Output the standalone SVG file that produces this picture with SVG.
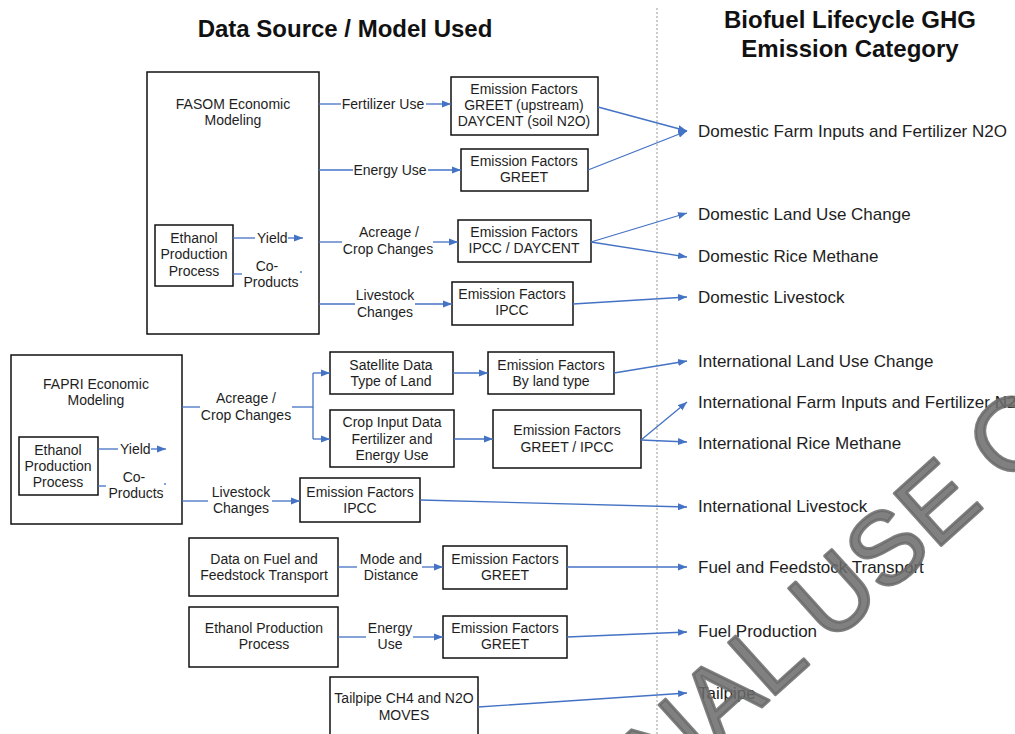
<svg xmlns="http://www.w3.org/2000/svg" width="1015" height="734" viewBox="0 0 1015 734">
<style>
text{font-family:"Liberation Sans",Arial,sans-serif;fill:#1e1e1e}
.b{font-size:14px;text-anchor:middle}
.l{font-size:14px}
.r{font-size:17px}
.t{font-size:24px;font-weight:bold;text-anchor:middle;fill:#111}
.box{fill:#fff;stroke:#111;stroke-width:1.5}
.c{stroke:#4472C4;stroke-width:1.3;fill:none}
.a{marker-end:url(#ah)}
.wm{font-size:102px;fill:#6a6a6a;fill-opacity:0.85;stroke:#6a6a6a;stroke-opacity:0.85;stroke-width:3;stroke-linejoin:round}
</style>
<defs>
<marker id="ah" markerUnits="userSpaceOnUse" markerWidth="10" markerHeight="8" refX="9" refY="4" orient="auto">
<path d="M0,0.5 L9,4 L0,7.5 z" fill="#4472C4"/>
</marker>
</defs>
<rect width="1015" height="734" fill="#fff"/>
<text class="t" x="345" y="37">Data Source / Model Used</text>
<text class="t" x="850" y="28">Biofuel Lifecycle GHG</text>
<text class="t" x="850" y="57">Emission Category</text>
<line x1="657" y1="8" x2="657" y2="734" stroke="#9a9a9a" stroke-width="1" stroke-dasharray="2,2"/>

<g id="fasom">
<rect class="box" x="147" y="72" width="172" height="262"/>
<text class="b" x="233" y="109">FASOM Economic</text>
<text class="b" x="233" y="125">Modeling</text>
</g>
<g id="ethanol1">
<rect class="box" x="155" y="225" width="78" height="61"/>
<text class="b" x="194" y="243">Ethanol</text>
<text class="b" x="194" y="259">Production</text>
<text class="b" x="194" y="276">Process</text>
</g>
<g id="ef1">
<rect class="box" x="451" y="77" width="147" height="58"/>
<text class="b" x="524" y="94">Emission Factors</text>
<text class="b" x="524" y="110">GREET (upstream)</text>
<text class="b" x="524" y="126">DAYCENT (soil N2O)</text>
</g>
<g id="ef2">
<rect class="box" x="461" y="149" width="127" height="42"/>
<text class="b" x="524" y="166">Emission Factors</text>
<text class="b" x="524" y="182">GREET</text>
</g>
<g id="ef3">
<rect class="box" x="458" y="220" width="133" height="42"/>
<text class="b" x="524" y="237">Emission Factors</text>
<text class="b" x="524" y="253">IPCC / DAYCENT</text>
</g>
<g id="ef4">
<rect class="box" x="452" y="282" width="121" height="43"/>
<text class="b" x="512" y="299">Emission Factors</text>
<text class="b" x="512" y="315">IPCC</text>
</g>

<g id="fapri">
<rect class="box" x="11" y="355" width="171" height="169"/>
<text class="b" x="96" y="389">FAPRI Economic</text>
<text class="b" x="96" y="405">Modeling</text>
</g>
<g id="ethanol2">
<rect class="box" x="19" y="437" width="79" height="58"/>
<text class="b" x="58" y="455">Ethanol</text>
<text class="b" x="58" y="471">Production</text>
<text class="b" x="58" y="487">Process</text>
</g>
<g id="satellite">
<rect class="box" x="330" y="352" width="123" height="42"/>
<text class="b" x="391" y="370">Satellite Data</text>
<text class="b" x="391" y="386">Type of Land</text>
</g>
<g id="ef5">
<rect class="box" x="488" y="352" width="126" height="42"/>
<text class="b" x="551" y="370">Emission Factors</text>
<text class="b" x="551" y="386">By land type</text>
</g>
<g id="cropinput">
<rect class="box" x="330" y="410" width="124" height="57"/>
<text class="b" x="392" y="427">Crop Input Data</text>
<text class="b" x="392" y="444">Fertilizer and</text>
<text class="b" x="392" y="460">Energy Use</text>
</g>
<g id="ef6">
<rect class="box" x="493" y="410" width="148" height="58"/>
<text class="b" x="567" y="435">Emission Factors</text>
<text class="b" x="567" y="452">GREET / IPCC</text>
</g>
<g id="ef7">
<rect class="box" x="300" y="478" width="120" height="44"/>
<text class="b" x="360" y="497">Emission Factors</text>
<text class="b" x="360" y="513">IPCC</text>
</g>

<g id="transport">
<rect class="box" x="189" y="538" width="149" height="58"/>
<text class="b" x="264" y="564">Data on Fuel and</text>
<text class="b" x="264" y="580">Feedstock Transport</text>
</g>
<g id="ef8">
<rect class="box" x="443" y="546" width="124" height="43"/>
<text class="b" x="505" y="564">Emission Factors</text>
<text class="b" x="505" y="580">GREET</text>
</g>
<g id="ethanol3">
<rect class="box" x="189" y="607" width="149" height="60"/>
<text class="b" x="264" y="633">Ethanol Production</text>
<text class="b" x="264" y="649">Process</text>
</g>
<g id="ef9">
<rect class="box" x="443" y="616" width="124" height="42"/>
<text class="b" x="505" y="633">Emission Factors</text>
<text class="b" x="505" y="649">GREET</text>
</g>
<g id="tailpipe">
<rect class="box" x="330" y="677" width="148" height="66"/>
<text class="b" x="404" y="703">Tailpipe CH4 and N2O</text>
<text class="b" x="404" y="720">MOVES</text>
</g>

<g id="categories">
<text class="r" x="698" y="137">Domestic Farm Inputs and Fertilizer N2O</text>
<text class="r" x="698" y="220">Domestic Land Use Change</text>
<text class="r" x="698" y="262">Domestic Rice Methane</text>
<text class="r" x="698" y="303">Domestic Livestock</text>
<text class="r" x="698" y="367">International Land Use Change</text>
<text class="r" x="698" y="408">International Farm Inputs and Fertilizer N2O</text>
<text class="r" x="698" y="449">International Rice Methane</text>
<text class="r" x="698" y="512">International Livestock</text>
<text class="r" x="698" y="573">Fuel and Feedstock Transport</text>
<text class="r" x="698" y="637">Fuel Production</text>
<text class="r" x="698" y="699">Tailpipe</text>
</g>

<g id="connectors">
<line class="c" x1="319" y1="104" x2="341" y2="104"/>
<line class="c a" x1="426" y1="104" x2="451" y2="104"/>
<line class="c" x1="319" y1="170" x2="353" y2="170"/>
<line class="c a" x1="428" y1="170" x2="461" y2="170"/>
<line class="c" x1="319" y1="242" x2="342" y2="242"/>
<line class="c a" x1="433" y1="242" x2="458" y2="242"/>
<line class="c" x1="319" y1="304" x2="355" y2="304"/>
<line class="c a" x1="415" y1="304" x2="452" y2="304"/>
<line class="c" x1="233" y1="238" x2="255" y2="238"/>
<line class="c a" x1="288" y1="238" x2="303" y2="238"/>
<line class="c" x1="233" y1="274" x2="242" y2="274"/>
<circle cx="301" cy="272" r="0.9" fill="#4472C4"/>

<line class="c a" x1="598" y1="107" x2="687" y2="131"/>
<line class="c a" x1="588" y1="170" x2="687" y2="131"/>
<line class="c a" x1="591" y1="242" x2="687" y2="213"/>
<line class="c a" x1="591" y1="242" x2="687" y2="257"/>
<line class="c a" x1="573" y1="304" x2="687" y2="297"/>

<line class="c" x1="98" y1="449" x2="118" y2="449"/>
<line class="c a" x1="151" y1="449" x2="166" y2="449"/>
<line class="c" x1="98" y1="486" x2="106" y2="486"/>
<circle cx="165" cy="484" r="0.9" fill="#4472C4"/>
<line class="c" x1="182" y1="407" x2="200" y2="407"/>
<line class="c" x1="292" y1="407" x2="313" y2="407"/>
<line class="c" x1="313" y1="373" x2="313" y2="439"/>
<line class="c a" x1="313" y1="373" x2="330" y2="373"/>
<line class="c a" x1="313" y1="439" x2="330" y2="439"/>
<line class="c a" x1="453" y1="373" x2="488" y2="373"/>
<line class="c a" x1="454" y1="439" x2="493" y2="439"/>
<line class="c" x1="182" y1="501" x2="208" y2="501"/>
<line class="c a" x1="272" y1="501" x2="300" y2="501"/>
<line class="c a" x1="614" y1="373" x2="687" y2="361"/>
<line class="c a" x1="641" y1="440" x2="687" y2="402"/>
<line class="c a" x1="641" y1="440" x2="687" y2="442"/>
<line class="c a" x1="420" y1="500" x2="687" y2="507"/>

<line class="c" x1="338" y1="567" x2="357" y2="567"/>
<line class="c a" x1="422" y1="567" x2="443" y2="567"/>
<line class="c" x1="338" y1="637" x2="366" y2="637"/>
<line class="c a" x1="413" y1="637" x2="443" y2="637"/>
<line class="c a" x1="567" y1="567" x2="687" y2="567"/>
<line class="c a" x1="567" y1="637" x2="687" y2="632"/>
<line class="c a" x1="478" y1="707" x2="687" y2="693"/>
</g>

<g id="connector-labels">
<text class="l" x="383" y="109" text-anchor="middle">Fertilizer Use</text>
<text class="l" x="390" y="175" text-anchor="middle">Energy Use</text>
<text class="l" x="389" y="237" text-anchor="middle">Acreage /</text>
<text class="l" x="388" y="254" text-anchor="middle">Crop Changes</text>
<text class="l" x="385" y="300" text-anchor="middle">Livestock</text>
<text class="l" x="385" y="317" text-anchor="middle">Changes</text>
<text class="l" x="257" y="243">Yield</text>
<text class="l" x="267" y="271" text-anchor="middle">Co-</text>
<text class="l" x="271" y="287" text-anchor="middle">Products</text>
<text class="l" x="120" y="454">Yield</text>
<text class="l" x="134" y="482" text-anchor="middle">Co-</text>
<text class="l" x="136" y="498" text-anchor="middle">Products</text>
<text class="l" x="246" y="403" text-anchor="middle">Acreage /</text>
<text class="l" x="246" y="420" text-anchor="middle">Crop Changes</text>
<text class="l" x="241" y="497" text-anchor="middle">Livestock</text>
<text class="l" x="241" y="513" text-anchor="middle">Changes</text>
<text class="l" x="391" y="564" text-anchor="middle">Mode and</text>
<text class="l" x="391" y="580" text-anchor="middle">Distance</text>
<text class="l" x="390" y="633" text-anchor="middle">Energy</text>
<text class="l" x="390" y="649" text-anchor="middle">Use</text>
</g>

<text class="wm" transform="translate(664,795) rotate(-42)">NAL USE O</text>
</svg>
